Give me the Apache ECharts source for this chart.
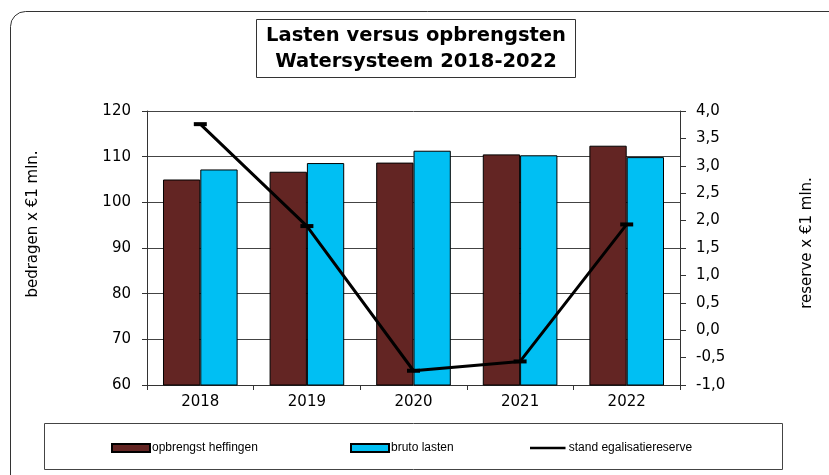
<!DOCTYPE html>
<html>
<head>
<meta charset="utf-8">
<script src="https://cdn.jsdelivr.net/npm/echarts@6/dist/echarts.min.js"></script>
<style>
html,body{margin:0;padding:0;background:#fff;}
#chart{width:829px;height:475px;}
</style>
</head>
<body>
<div id="chart"></div>
<script>
var years = ['2018', '2019', '2020', '2021', '2022'];
var opbrengst = [105.0, 106.7, 108.7, 110.5, 112.4];
var bruto = [107.2, 108.6, 111.3, 110.3, 109.9];
var reserve = [3.76, 1.90, -0.74, -0.57, 1.93];

var font = 'DejaVu Sans';
var chart = echarts.init(document.getElementById('chart'));

function legendAt(x, name, icon) {
  return {
    left: x,
    top: 442,
    padding: 0,
    itemWidth: 38,
    itemHeight: 8,
    textStyle: { fontFamily: 'Liberation Sans', fontSize: 12, color: '#000', padding: [0, 0, 0, -3] },
    data: [{ name: name, icon: icon }]
  };
}

var option = {
  animation: false,
  backgroundColor: '#fff',
  title: {
    text: 'Lasten versus opbrengsten\nWatersysteem 2018-2022',
    left: 406,
    top: 19,
    textAlign: 'center',
    padding: [4, 10, 3, 10],
    borderColor: '#333',
    borderWidth: 1,
    textStyle: { fontFamily: font, fontSize: 19.5, fontWeight: 'bold', color: '#000', lineHeight: 26 }
  },
  grid: { left: 147, right: 149, top: 111, bottom: 90 },
  legend: [
    legendAt(111, 'opbrengst heffingen', 'rect'),
    legendAt(350, 'bruto lasten', 'rect'),
    legendAt(530, 'stand egalisatiereserve', 'path://M0,0L0.01,0L0.01,0.01Z M0,3H40V6H0Z M0,9L0.01,9L0.01,9.01Z')
  ],
  graphic: [
    { type: 'rect', shape: { x: 10.5, y: 11.5, width: 840, height: 480, r: 15 }, style: { fill: 'none', stroke: '#333', lineWidth: 1 } },
    { type: 'rect', shape: { x: 44.5, y: 423.5, width: 738, height: 46 }, style: { fill: 'none', stroke: '#444', lineWidth: 1 } },
    { type: 'text', x: 33, y: 224, rotation: Math.PI / 2,
      style: { text: 'bedragen x €1 mln.', font: '15px "DejaVu Sans"', fill: '#000', align: 'center', verticalAlign: 'middle' } },
    { type: 'text', x: 807, y: 243, rotation: Math.PI / 2,
      style: { text: 'reserve x €1 mln.', font: '15px "DejaVu Sans"', fill: '#000', align: 'center', verticalAlign: 'middle' } }
  ],
  xAxis: {
    type: 'category',
    data: years,
    axisLine: { onZero: false, lineStyle: { color: '#333', width: 1 } },
    axisTick: { show: true, alignWithLabel: false, length: 5, lineStyle: { color: '#333' } },
    axisLabel: { fontFamily: font, fontSize: 15, color: '#000', margin: 10 }
  },
  yAxis: [
    {
      type: 'value', min: 60, max: 120, interval: 10,
      axisLine: { show: true, lineStyle: { color: '#333' } },
      axisTick: { show: true, length: 5, lineStyle: { color: '#333' } },
      axisLabel: { fontFamily: font, fontSize: 15, color: '#000', margin: 16 },
      splitLine: { show: true, lineStyle: { color: '#444', width: 1 } }
    },
    {
      type: 'value', min: -1, max: 4, interval: 0.5, position: 'right',
      axisLine: { show: true, lineStyle: { color: '#333' } },
      axisTick: { show: true, length: 6, lineStyle: { color: '#333' } },
      axisLabel: { fontFamily: font, fontSize: 15, color: '#000', margin: 16,
        formatter: function (v) { return v.toFixed(1).replace('.', ','); } },
      splitLine: { show: false }
    }
  ],
  series: [
    {
      name: 'opbrengst heffingen', type: 'bar', data: opbrengst,
      barGap: '0%', barCategoryGap: '30%',
      itemStyle: { color: '#632523', borderColor: '#000', borderWidth: 1 }
    },
    {
      name: 'bruto lasten', type: 'bar', data: bruto,
      itemStyle: { color: '#00BFF3', borderColor: '#000', borderWidth: 1 }
    },
    {
      name: 'stand egalisatiereserve', type: 'line', yAxisIndex: 1, data: reserve,
      symbol: 'rect', symbolSize: [13, 4],
      lineStyle: { color: '#000', width: 3 },
      itemStyle: { color: '#000' }
    }
  ]
};
chart.setOption(option);
</script>
</body>
</html>
